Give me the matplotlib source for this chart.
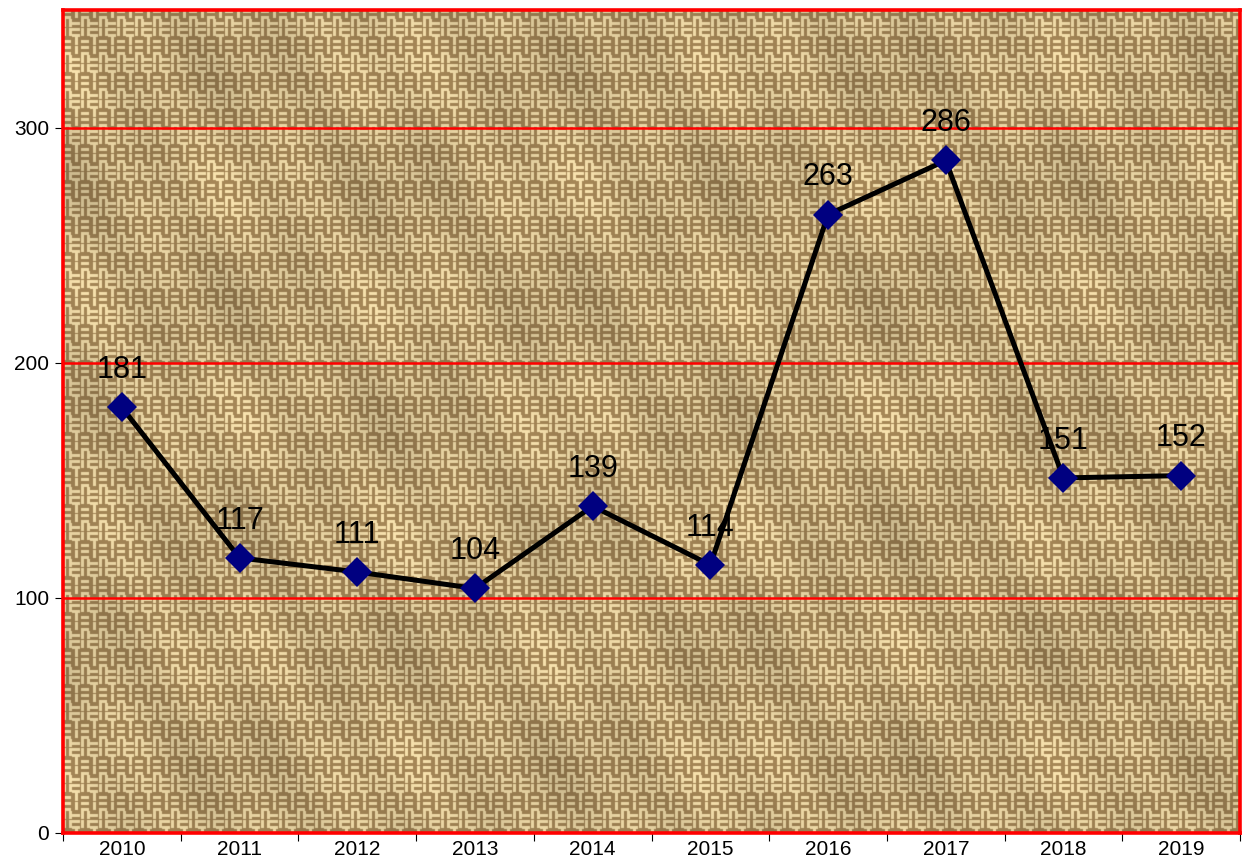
import numpy as np
import matplotlib
matplotlib.use("Agg")
import matplotlib.pyplot as plt

years = ["2010", "2011", "2012", "2013", "2014", "2015", "2016", "2017", "2018", "2019"]
values = [181, 117, 111, 104, 139, 114, 263, 286, 151, 152]
yticks = [0, 100, 200, 300]

plt.rcParams['font.family'] = ['Liberation Sans', 'DejaVu Sans']

fig = plt.figure(figsize=(12.44, 8.6), dpi=100)
ax = fig.add_axes([63/1244, 27/860, 1177/1244, 823/860])

# burlap-like woven texture (decorative background)
H, W = 823, 1177
ii, jj = np.indices((H, W))
c = 3
ci, cj = ii // c, jj // c
bi, bj = ci // 3, cj // 3
horiz = (bi + bj + (bi // 2)) % 2 == 0
light = np.where(horiz, ci % 2 == 0, cj % 2 == 0)
gap = np.where(horiz, (jj % 9) == 8, (ii % 9) == 8)
light = light & ~gap
v = light.astype(float)
vs = (v + np.roll(v, 1, 0) + np.roll(v, 1, 1) + np.roll(v, -1, 0) + np.roll(v, -1, 1)) / 5
vs = 0.4 * v + 0.6 * vs
shade = 0.06 * np.sin(ii / 37.0) * np.cos(jj / 53.0) + 0.04 * np.sin((ii - 2 * jj) / 29.0)
lightc = np.array([226, 206, 158]) / 255
darkc = np.array([152, 124, 80]) / 255
img = darkc + (lightc - darkc) * vs[..., None]
img = np.clip(img * (1 + shade[..., None]), 0, 1)

x = np.arange(len(years))
ax.set_xlim(-0.5, len(years) - 0.5)
ax.set_ylim(0, 350)
ax.imshow(img, extent=[-0.5, len(years) - 0.5, 0, 350], aspect='auto', zorder=0, interpolation='bilinear')

for yv in yticks[1:]:
    ax.axhline(yv, color='#ff0000', lw=1.8, zorder=1)

ax.plot(x, values, color='black', lw=3.6, zorder=3,
        marker='D', markersize=15, markerfacecolor='#000080', markeredgecolor='#000080', markeredgewidth=0)

for xi, v_ in zip(x, values):
    ax.annotate(str(v_), (xi, v_), xytext=(0, 21), textcoords='offset points',
                ha='center', va='baseline', fontsize=22, color='black', zorder=4)

for s in ax.spines.values():
    s.set_color('#ff0000')
    s.set_linewidth(2.6)

ax.set_xticks(np.arange(-0.5, len(years), 1.0))
ax.set_xticklabels([])
ax.set_xticks(x, minor=True)
ax.set_xticklabels(years, minor=True, fontsize=15)
ax.tick_params(axis='x', which='major', length=6, width=0.8, color='black', direction='out')
ax.tick_params(axis='x', which='minor', length=0, pad=5)
ax.set_yticks(yticks)
ax.set_yticklabels([str(t) for t in yticks], fontsize=15)
ax.tick_params(axis='y', length=6, width=0.8, color='black', pad=4)

fig.savefig("out.png", dpi=100)
